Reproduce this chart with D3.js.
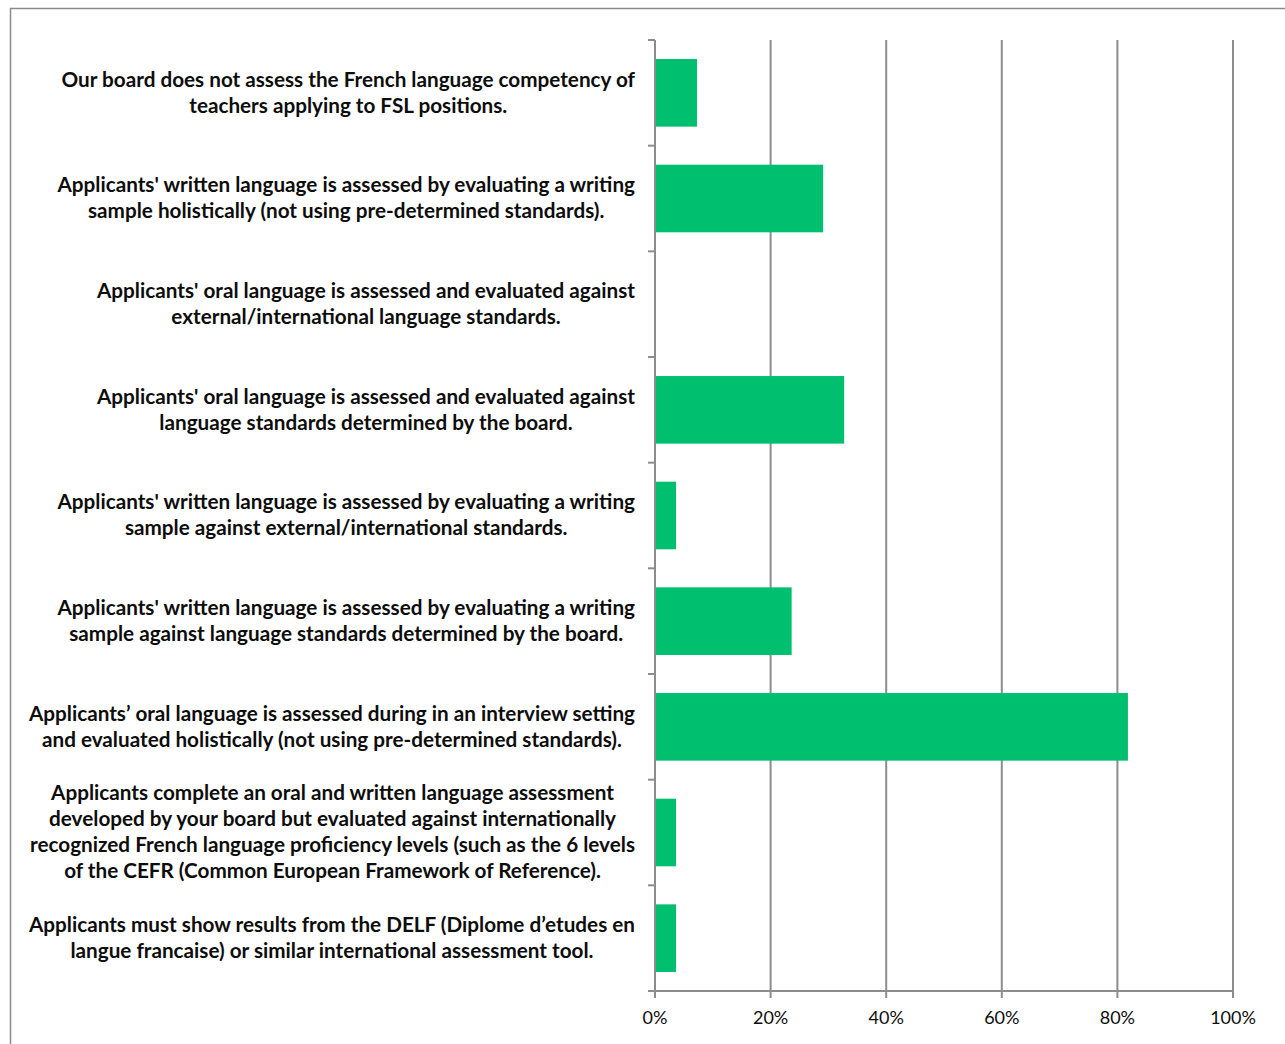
<!DOCTYPE html>
<html>
<head>
<meta charset="utf-8">
<script src="https://cdn.jsdelivr.net/npm/d3@7"></script>
<style>
  html, body { margin: 0; padding: 0; background: #fff; }
  svg { display: block; }
  .cat text { font-family: Lato, "Open Sans", sans-serif; font-weight: 700; fill: #0d0d0d; }
  .tick-label { font-family: Lato, "Open Sans", sans-serif; fill: #0d0d0d; }
</style>
</head>
<body>
<svg id="chart" width="1285" height="1044"></svg>
<script>
// Survey responses: how boards assess FSL applicants' French competency
const categories = [
  ["Our board does not assess the French language competency of", "teachers applying to FSL positions."],
  ["Applicants' written language is assessed by evaluating a writing", "sample holistically (not using pre-determined standards)."],
  ["Applicants' oral language is assessed and evaluated against", "external/international language standards."],
  ["Applicants' oral language is assessed and evaluated against", "language standards determined by the board."],
  ["Applicants' written language is assessed by evaluating a writing", "sample against external/international standards."],
  ["Applicants' written language is assessed by evaluating a writing", "sample against language standards determined by the board."],
  ["Applicants\u2019 oral language is assessed during in an interview setting", "and evaluated holistically (not using pre-determined standards)."],
  ["Applicants complete an oral and written language assessment", "developed by your board but evaluated against internationally", "recognized French language proficiency levels (such as the 6 levels", "of the CEFR (Common European Framework of Reference)."],
  ["Applicants must show results from the DELF (Diplome d\u2019etudes en", "langue francaise) or similar international assessment tool."]
];
const values = [7.27, 29.09, 0, 32.73, 3.64, 23.64, 81.82, 3.64, 3.64]; // percent of respondents
const xTicks = [0, 20, 40, 60, 80, 100];
const xTickLabels = ["0%", "20%", "40%", "60%", "80%", "100%"];

const svg = d3.select("#chart");
const gridColor = "#8c8c8c";
const barColor = "#00bf6f";

// outer frame
svg.append("rect")
  .attr("x", 10.5).attr("y", 8.5)
  .attr("width", 1400).attr("height", 1200)
  .attr("fill", "none").attr("stroke", "#8a8a8a").attr("stroke-width", 1.5);

const plot = { left: 655, right: 1233, top: 40, bottom: 991 };

const x = d3.scaleLinear().domain([0, 100]).range([plot.left, plot.right]);
const idx = d3.range(categories.length);
const y = d3.scaleBand().domain(idx).range([plot.top, plot.bottom]).padding(0);
const barFrac = 0.64;

// vertical gridlines
svg.append("g")
  .selectAll("line")
  .data(xTicks.filter(t => t > 0))
  .join("line")
  .attr("x1", d => x(d)).attr("x2", d => x(d))
  .attr("y1", plot.top).attr("y2", plot.bottom)
  .attr("stroke", gridColor).attr("stroke-width", 2);

// bars
svg.append("g")
  .selectAll("rect")
  .data(values)
  .join("rect")
  .attr("x", x(0))
  .attr("y", (d, i) => y(i) + y.step() * (1 - barFrac) / 2)
  .attr("width", d => x(d) - x(0))
  .attr("height", y.step() * barFrac)
  .attr("fill", barColor);

// category axis: line plus ticks at band boundaries
const yAxis = svg.append("g");
yAxis.append("line")
  .attr("x1", plot.left).attr("x2", plot.left)
  .attr("y1", plot.top).attr("y2", plot.bottom)
  .attr("stroke", gridColor).attr("stroke-width", 2);
yAxis.selectAll("line.bt")
  .data(d3.range(categories.length + 1))
  .join("line").attr("class", "bt")
  .attr("x1", plot.left - 7).attr("x2", plot.left)
  .attr("y1", i => i < categories.length ? y(i) : plot.bottom)
  .attr("y2", i => i < categories.length ? y(i) : plot.bottom)
  .attr("stroke", gridColor).attr("stroke-width", 2);

// value axis
const xAxisG = svg.append("g").attr("transform", `translate(0,${plot.bottom})`);
xAxisG.append("line")
  .attr("x1", plot.left - 7).attr("x2", plot.right)
  .attr("stroke", gridColor).attr("stroke-width", 2);
xAxisG.selectAll("line.xt")
  .data(xTicks).join("line").attr("class", "xt")
  .attr("x1", d => x(d)).attr("x2", d => x(d))
  .attr("y1", 0).attr("y2", 7)
  .attr("stroke", gridColor).attr("stroke-width", 2);
xAxisG.selectAll("text")
  .data(xTicks).join("text").attr("class", "tick-label")
  .attr("x", d => x(d)).attr("y", 33)
  .attr("text-anchor", "middle")
  .attr("font-size", 18)
  .text((d, i) => xTickLabels[i]);

// category labels: centred lines, block right-aligned to the axis
const labelRight = 635;
const lineH = 26;
const fs = 20.7;
const cat = svg.append("g").attr("class", "cat");
categories.forEach((lines, i) => {
  const g = cat.append("g");
  const cy = y(i) + y.step() / 2;
  const texts = lines.map((ln, k) => g.append("text")
    .attr("font-size", fs)
    .attr("text-anchor", "middle")
    .attr("y", cy + (k - (lines.length - 1) / 2) * lineH + fs * 0.33)
    .text(ln));
  const maxW = d3.max(texts, t => t.node().getComputedTextLength());
  texts.forEach(t => t.attr("x", labelRight - maxW / 2));
});
</script>
</body>
</html>
